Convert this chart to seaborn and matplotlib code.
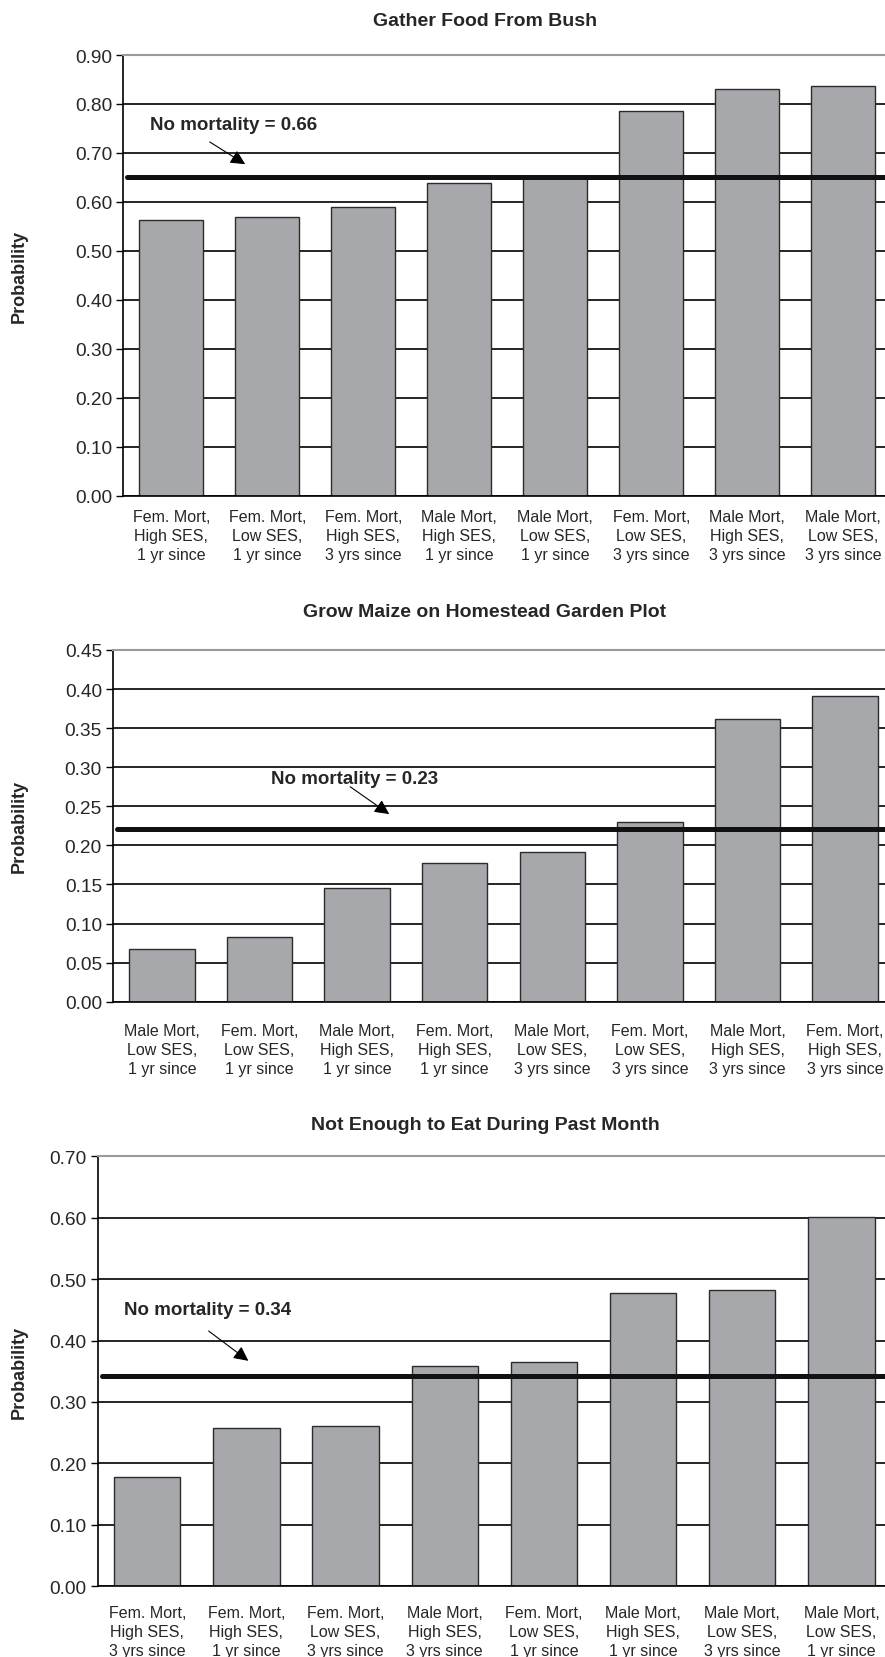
import pandas as pd
import matplotlib
matplotlib.use("Agg")
import matplotlib.pyplot as plt
import seaborn as sns

# data
titles = ["Gather Food From Bush",
          "Grow Maize on Homestead Garden Plot",
          "Not Enough to Eat During Past Month"]

labels_bush = ["Fem. Mort,\nHigh SES,\n1 yr since", "Fem. Mort,\nLow SES,\n1 yr since",
               "Fem. Mort,\nHigh SES,\n3 yrs since", "Male Mort,\nHigh SES,\n1 yr since",
               "Male Mort,\nLow SES,\n1 yr since", "Fem. Mort,\nLow SES,\n3 yrs since",
               "Male Mort,\nHigh SES,\n3 yrs since", "Male Mort,\nLow SES,\n3 yrs since"]
values_bush = [0.564, 0.570, 0.590, 0.639, 0.648, 0.786, 0.830, 0.837]

labels_maize = ["Male Mort,\nLow SES,\n1 yr since", "Fem. Mort,\nLow SES,\n1 yr since",
                "Male Mort,\nHigh SES,\n1 yr since", "Fem. Mort,\nHigh SES,\n1 yr since",
                "Male Mort,\nLow SES,\n3 yrs since", "Fem. Mort,\nLow SES,\n3 yrs since",
                "Male Mort,\nHigh SES,\n3 yrs since", "Fem. Mort,\nHigh SES,\n3 yrs since"]
values_maize = [0.068, 0.083, 0.146, 0.177, 0.192, 0.230, 0.362, 0.391]

labels_eat = ["Fem. Mort,\nHigh SES,\n3 yrs since", "Fem. Mort,\nHigh SES,\n1 yr since",
              "Fem. Mort,\nLow SES,\n3 yrs since", "Male Mort,\nHigh SES,\n3 yrs since",
              "Fem. Mort,\nLow SES,\n1 yr since", "Male Mort,\nHigh SES,\n1 yr since",
              "Male Mort,\nLow SES,\n3 yrs since", "Male Mort,\nLow SES,\n1 yr since"]
values_eat = [0.1775, 0.257, 0.260, 0.359, 0.3645, 0.477, 0.482, 0.601]

no_mort_lines = [0.651, 0.221, 0.342]
no_mort_text = ["No mortality = 0.66", "No mortality = 0.23", "No mortality = 0.34"]
y_max = [0.90, 0.45, 0.70]
y_step = [0.10, 0.05, 0.10]

sns.set_style("white")
plt.rcParams['font.family'] = ['Liberation Sans Narrow', 'Liberation Sans', 'DejaVu Sans']

fig = plt.figure(figsize=(8.85, 16.58), dpi=100)

# axes boxes: left, bottom, width, height (figure fractions)
boxes = [[0.1393, 0.7005, 0.8678, 0.2657],
         [0.1277, 0.3952, 0.8823, 0.2122],
         [0.1103, 0.0428, 0.8965, 0.2591]]
title_y = [0.9873, 0.6303, 0.3213]
x_pads = [10, 15, 13.5]
# annotation text position and arrow (start, end) in data coords
ann = [((-0.22, 0.759), (0.40, 0.7225), (0.77, 0.677)),
       ((1.12, 0.285), (1.93, 0.275), (2.33, 0.240)),
       ((-0.23, 0.451), (0.62, 0.4155), (1.02, 0.367))]

panels = [(labels_bush, values_bush), (labels_maize, values_maize), (labels_eat, values_eat)]

for i, (labs, vals) in enumerate(panels):
    ax = fig.add_axes(boxes[i])
    df = pd.DataFrame({"group": labs, "prob": vals})
    sns.barplot(data=df, x="group", y="prob", order=labs, color="#a7a8ac",
                saturation=1, width=0.67, edgecolor="#2b2b2b", linewidth=1.0, ax=ax)
    ax.set_xlim(-0.5, 7.5)
    ax.set_ylim(0, y_max[i])
    n = int(round(y_max[i] / y_step[i]))
    ticks = [k * y_step[i] for k in range(n + 1)]
    ax.set_yticks(ticks)
    ax.set_yticklabels([f"{t:.2f}" for t in ticks], fontsize=13.8)
    ax.yaxis.grid(True, color="black", linewidth=1.2)
    ax.set_axisbelow(True)

    ax.axhline(no_mort_lines[i], xmin=0.005, xmax=1, color="#111111", linewidth=3.6, zorder=5)
    (tx, ty), (sx, sy), (ex, ey) = ann[i]
    ax.text(tx, ty, no_mort_text[i], fontsize=13.5, fontweight="bold",
            ha="left", va="center", zorder=6)
    ax.annotate("", xy=(ex, ey), xytext=(sx, sy),
                arrowprops=dict(arrowstyle="-|>", color="black", lw=0.8,
                                mutation_scale=22, shrinkA=0, shrinkB=0), zorder=6)

    ax.set_xticks(range(len(labs)))
    ax.set_xticklabels(labs, fontsize=11.5, linespacing=1.33)
    ax.set_xticks([k - 0.5 for k in range(len(labs) + 1)], minor=True)
    ax.tick_params(axis="x", which="major", length=0, pad=x_pads[i])
    ax.tick_params(axis="x", which="minor", length=6, width=1, color="black", direction="out")
    ax.tick_params(axis="y", length=5, width=1, color="black", direction="out", left=True, pad=3)

    ax.set_xlabel("")
    ax.set_ylabel("Probability", fontsize=13, fontweight="bold",
                  family=["Liberation Sans", "DejaVu Sans"])
    ax.yaxis.set_label_coords(-(boxes[i][0] - 0.0316) / boxes[i][2], 0.5)

    for s in ["left", "bottom"]:
        ax.spines[s].set_color("black")
        ax.spines[s].set_linewidth(1.2)
    ax.spines["top"].set_color("#9a9a9a")
    ax.spines["top"].set_linewidth(1.5)
    ax.spines["right"].set_visible(False)

    fig.text(0.548, title_y[i], titles[i], ha="center", va="center",
             fontsize=14, fontweight="bold")

fig.savefig("out.png", dpi=100)
